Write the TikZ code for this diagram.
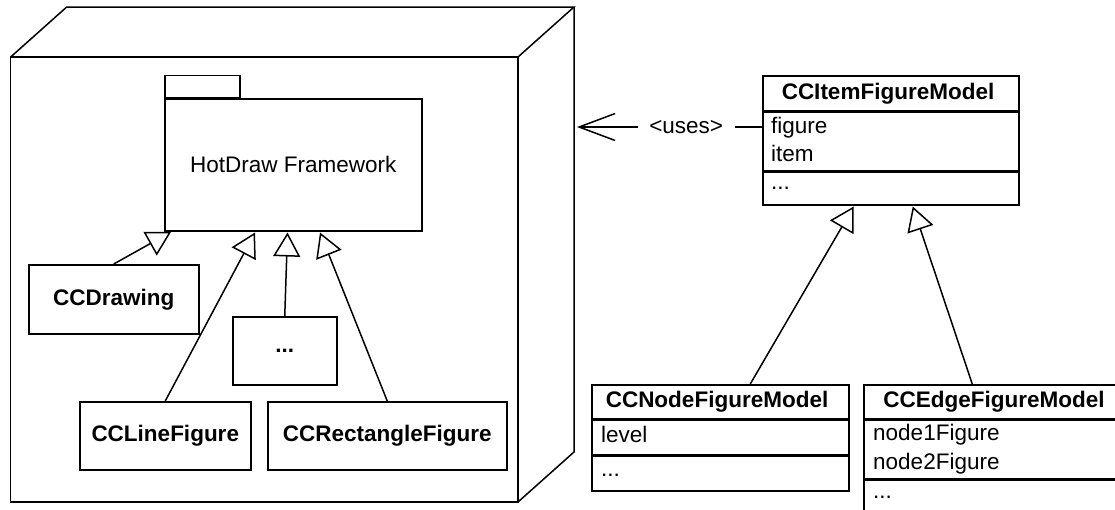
\documentclass[tikz,border=0pt]{standalone}
\usepackage{fontspec}
\setmainfont{Liberation Sans}
\usetikzlibrary{arrows.meta}
\begin{document}
\begin{tikzpicture}[x=1pt,y=-1pt,
  ln/.style={line width=1.5pt, line join=miter},
  frame/.style={draw, ln, inner sep=0pt, anchor=north west},
  txt/.style={font=\fontsize{22.5}{26}\selectfont, inner sep=0pt},
  btxt/.style={font=\fontsize{22.5}{26}\selectfont\bfseries, inner sep=0pt},
  gen/.style={ln, -{Triangle[open, length=24pt, width=27pt, line width=1.5pt]}},
  uses/.style={ln, -{Straight Barb[length=36pt, width=27pt, line width=1.5pt]}}]
\clip (0,0) rectangle (1115,509);
% node (cube)
\coordinate (fa) at (10.7,57);
\coordinate (fb) at (518,57);
\coordinate (fc) at (518,502);
\coordinate (ba) at (66.7,7);
\coordinate (bb) at (574,7);
\coordinate (bc) at (574,452);
\draw[ln] (fa) rectangle (fc);
\draw[ln] (fa) -- (ba) -- (bb) -- (fb);
\draw[ln] (bb) -- (bc) -- (fc);
% package
\node[frame, minimum width=257pt, minimum height=132pt, txt] (pkg) at (164,98) {};
\node[txt] (pkgtxt) at (pkg.center) {HotDraw Framework};
\node[draw, ln, inner sep=0pt, minimum width=75pt, minimum height=22pt, anchor=south west] (tab) at (pkg.north west) {};
% classes inside
\node[frame, minimum width=170pt, minimum height=69pt] (draw) at (28,264) {};
\node[btxt] at (draw.center) {CCDrawing};
\node[frame, minimum width=104pt, minimum height=68pt] (dots) at (232,316) {};
\node[btxt] at (dots.center) {...};
\node[frame, minimum width=171pt, minimum height=68pt] (linef) at (79,401) {};
\node[btxt] at (linef.center) {CCLineFigure};
\node[frame, minimum width=239pt, minimum height=68pt] (rectf) at (267,401) {};
\node[btxt] at (rectf.center) {CCRectangleFigure};
% generalizations to package
\draw[gen] (draw.north) -- ([xshift=7pt,yshift=-0.5pt]pkg.south west);
\draw[gen] (linef.north) -- ([xshift=91pt,yshift=-1pt]pkg.south west);
\draw[gen] (dots.north) -- ([xshift=123.5pt,yshift=-1pt]pkg.south west);
\draw[gen] (rectf.north) -- ([xshift=156pt,yshift=-1pt]pkg.south west);
% CCItemFigureModel
\node[frame, minimum width=256pt, minimum height=35pt] (itemH) at (762,75) {};
\node[frame, minimum width=256pt, minimum height=58pt] (itemA) at (itemH.south west) {};
\node[frame, minimum width=256pt, minimum height=33pt] (itemO) at (itemA.south west) {};
\node[btxt, anchor=base] at (888,99) {CCItemFigureModel};
\node[txt, anchor=base west] (fig) at (771,133) {figure};
\node[txt, anchor=base west] at (771,161) {item};
\node[txt, anchor=base west] at (771,189) {...};
% CCNodeFigureModel
\node[frame, minimum width=257pt, minimum height=34pt] (nodeH) at (591,384) {};
\node[frame, minimum width=257pt, minimum height=34pt] (nodeA) at (nodeH.south west) {};
\node[frame, minimum width=257pt, minimum height=35pt] (nodeO) at (nodeA.south west) {};
\node[btxt, anchor=base] at (717,407) {CCNodeFigureModel};
\node[txt, anchor=base west] at (601,442) {level};
\node[txt, anchor=base west] at (601,476) {...};
% CCEdgeFigureModel
\node[frame, minimum width=262pt, minimum height=34pt] (edgeH) at (863,384) {};
\node[frame, minimum width=262pt, minimum height=58pt] (edgeA) at (edgeH.south west) {};
\node[frame, minimum width=262pt, minimum height=31pt] (edgeO) at (edgeA.south west) {};
\node[btxt, anchor=base] at (994,407) {CCEdgeFigureModel};
\node[txt, anchor=base west] at (873,440) {node1Figure};
\node[txt, anchor=base west] at (873,469) {node2Figure};
\node[txt, anchor=base west] at (873,498) {...};
% generalizations to CCItemFigureModel
\draw[gen] ([xshift=30pt]nodeH.north) -- ([xshift=-37pt,yshift=-1pt]itemO.south);
\draw[gen] ([xshift=-22.5pt]edgeH.north) -- ([xshift=22pt,yshift=-1pt]itemO.south);
% uses dependency
\coordinate (usetip) at (577,127);
\draw[uses] (itemA.west |- usetip) -- node[pos=0.41, fill=white, minimum width=97pt, minimum height=24pt, txt] {<uses>} (usetip);
\end{tikzpicture}
\end{document}
